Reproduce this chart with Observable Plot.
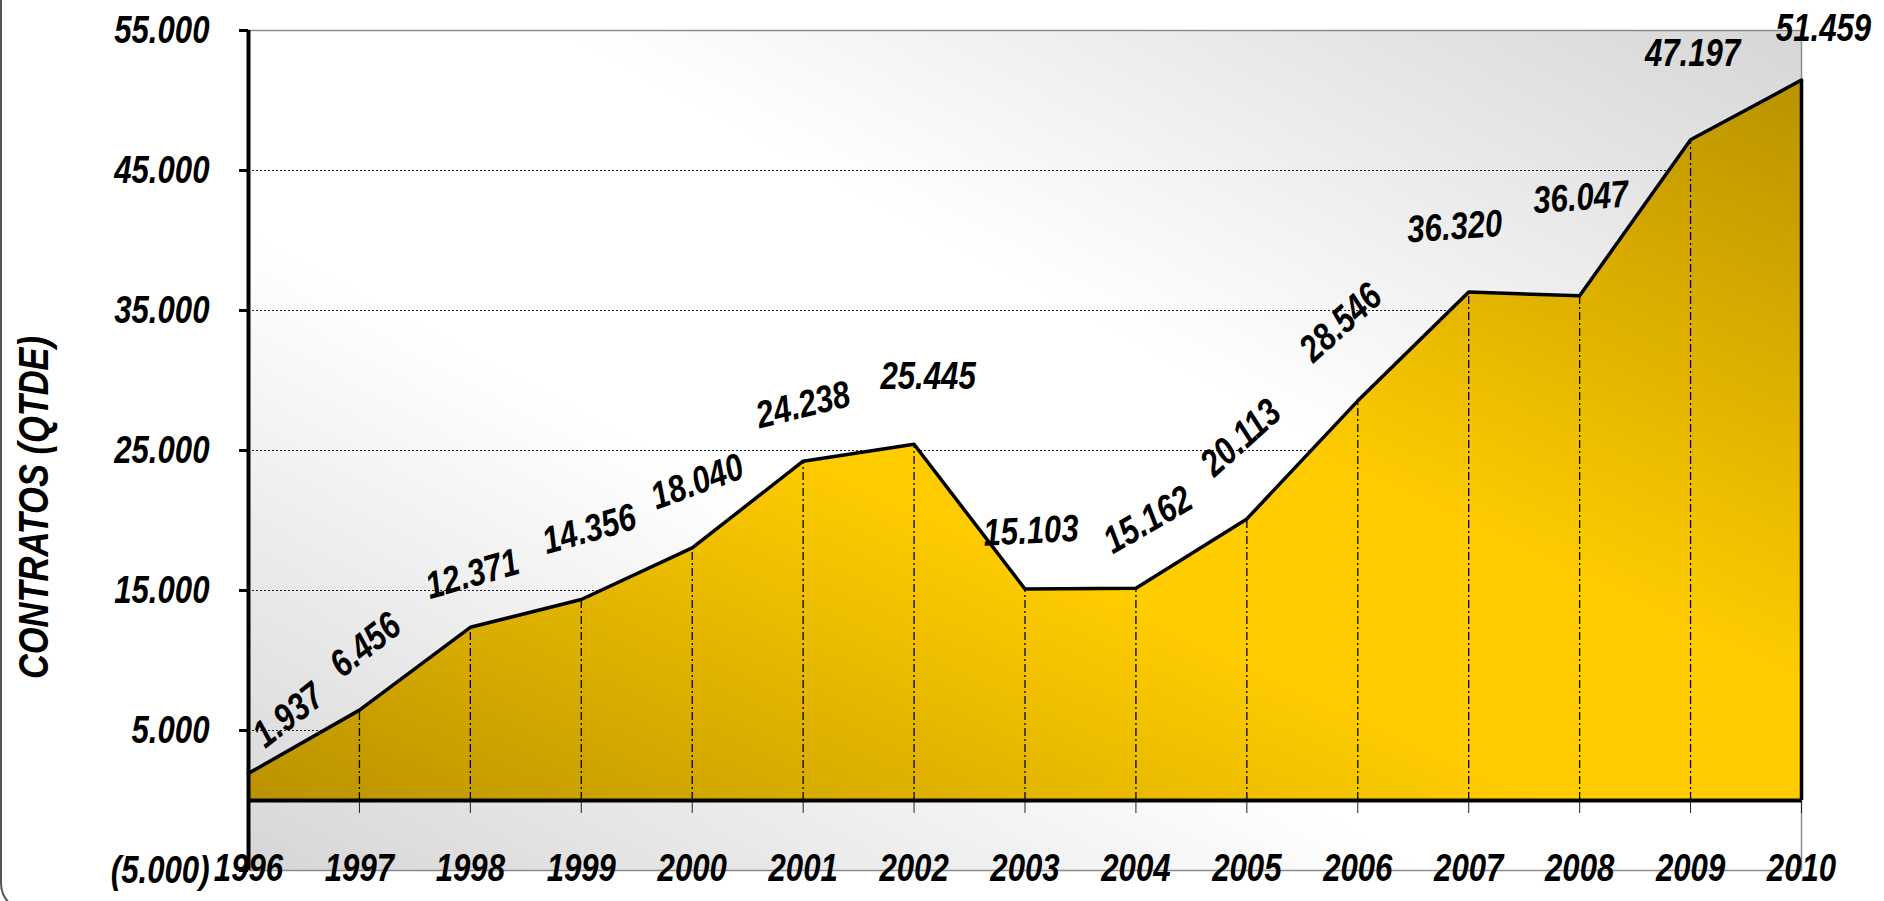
<!DOCTYPE html>
<html><head><meta charset="utf-8">
<script src="https://cdn.jsdelivr.net/npm/d3@7"></script>
<script src="https://cdn.jsdelivr.net/npm/@observablehq/plot@0.6"></script>
<style>
html,body{margin:0;padding:0;background:#fff;overflow:hidden;width:1884px;height:901px;}
#frame{position:absolute;left:0;top:-40px;width:2100px;height:953px;border:2px solid #555;border-radius:30px;box-sizing:border-box;}
#chart{position:absolute;left:0;top:0;}
</style></head><body>
<div id="frame"></div><div id="chart"></div>
<script>
// ---- data ----
const years = [1996, 1997, 1998, 1999, 2000, 2001, 2002, 2003, 2004, 2005, 2006, 2007, 2008, 2009, 2010];
const contratos = [1937, 6456, 12371, 14356, 18040, 24238, 25445, 15103, 15162, 20113, 28546, 36320, 36047, 47197, 51459];
const yTicks = [-5000, 5000, 15000, 25000, 35000, 45000, 55000];
const gridValues = [5000, 15000, 25000, 35000, 45000];
const yTitle = "CONTRATOS (QTDE)";

// ---- label layout (style: offsets in px, rotation in degrees) ----
const labelDx = [40, 6, 2, 8, 5, 0, 14, 6, 12, -6, -17, -14, 1, 2, 22];
const labelDy = [-58, -65, -53, -70, -66, -56, -67, -58, -68, -81, -78, -65, -98, -86, -51];
const labelRotate = [-38, -38, -16, -16, -20, -14, 0, -3, -30, -42, -42, -4, -4, 0, 0];

const data = years.map((year, i) => ({year, value: contratos[i]}));

const fmtInt = d3.formatLocale({decimal: ",", thousands: ".", grouping: [3], currency: ["", ""]}).format(",d");
const fmt = d => d < 0 ? `(${fmtInt(-d)})` : fmtInt(d);

const FONT = '"Liberation Sans", Arial, sans-serif';
const NARROW = 0.82; // emulate a narrow face

const defs = () => {
  const g = d3.create("svg:defs");
  const gold = g.append("linearGradient").attr("id", "goldGrad")
    .attr("x1", 0).attr("y1", 1).attr("x2", 1).attr("y2", 0);
  gold.append("stop").attr("offset", "0").attr("stop-color", "#b99200");
  gold.append("stop").attr("offset", "0.42").attr("stop-color", "#ffcc00");
  gold.append("stop").attr("offset", "0.58").attr("stop-color", "#ffcc00");
  gold.append("stop").attr("offset", "1").attr("stop-color", "#b99200");
  const bg = g.append("linearGradient").attr("id", "bgGrad")
    .attr("x1", 0).attr("y1", 1).attr("x2", 1).attr("y2", 0);
  bg.append("stop").attr("offset", "0").attr("stop-color", "#d6d6d6");
  bg.append("stop").attr("offset", "0.38").attr("stop-color", "#ffffff");
  bg.append("stop").attr("offset", "0.6").attr("stop-color", "#ffffff");
  bg.append("stop").attr("offset", "1").attr("stop-color", "#d6d6d6");
  return g.node();
};

const labelMarks = data.map((d, i) => Plot.text([d], {
  x: "year", y: "value", text: r => fmt(r.value),
  dx: labelDx[i], dy: labelDy[i], rotate: labelRotate[i],
  fontSize: 38, fontWeight: "bold", fontStyle: "italic",
  textAnchor: "middle", lineAnchor: "middle", fill: "#000"
}));

const chart = Plot.plot({
  width: 1884,
  height: 901,
  marginLeft: 248,
  marginRight: 83,
  marginTop: 30,
  marginBottom: 31,
  style: {background: "transparent", fontFamily: FONT, fontWeight: "bold", fontStyle: "italic", color: "#000"},
  x: {domain: [1996, 2010]},
  y: {domain: [-5000, 55000]},
  marks: [
    defs,
    Plot.frame({fill: "url(#bgGrad)", stroke: "#8c8c8c", strokeWidth: 1.5}),
    Plot.ruleY(gridValues, {stroke: "#222", strokeWidth: 1, strokeDasharray: "2,2"}),
    Plot.areaY(data, {x: "year", y: "value", fill: "url(#goldGrad)"}),
    Plot.ruleX(data, {x: "year", y1: 0, y2: "value", stroke: "#000", strokeWidth: 1.3, strokeDasharray: "8,3,2,3"}),
    Plot.ruleX(years, {x: d => d, y1: 0, y2: 0, insetTop: 0, insetBottom: -13, stroke: "#222", strokeWidth: 1}),
    Plot.lineY(data, {x: "year", y: "value", stroke: "#000", strokeWidth: 3.5}),
    Plot.ruleX(data.slice(-1), {x: "year", y1: 0, y2: "value", stroke: "#000", strokeWidth: 3.5}),
    Plot.ruleY([0], {stroke: "#000", strokeWidth: 4}),
    Plot.ruleX([1996], {stroke: "#000", strokeWidth: 4}),
    Plot.axisY(yTicks, {tickFormat: fmt, tickSize: 9, tickPadding: 30, strokeWidth: 3, fontSize: 38, label: null}),
    Plot.axisX(years, {tickFormat: d => String(d), tickSize: 0, dy: -25, fontSize: 38, label: null}),
    Plot.text([yTitle], {frameAnchor: "left", dx: -214, dy: 57, rotate: -90, fontSize: 42, fontWeight: "bold", fontStyle: "italic", textAnchor: "middle", lineAnchor: "middle"}),
    ...labelMarks
  ]
});
document.getElementById("chart").appendChild(chart);
// condense glyphs to mimic a narrow typeface
chart.querySelectorAll("text").forEach(t => {
  if (t.querySelector("tspan")) return;
  const len = t.getComputedTextLength();
  if (len > 0) {
    t.setAttribute("textLength", (len * NARROW).toFixed(2));
    t.setAttribute("lengthAdjust", "spacingAndGlyphs");
  }
});
</script>
</body></html>
